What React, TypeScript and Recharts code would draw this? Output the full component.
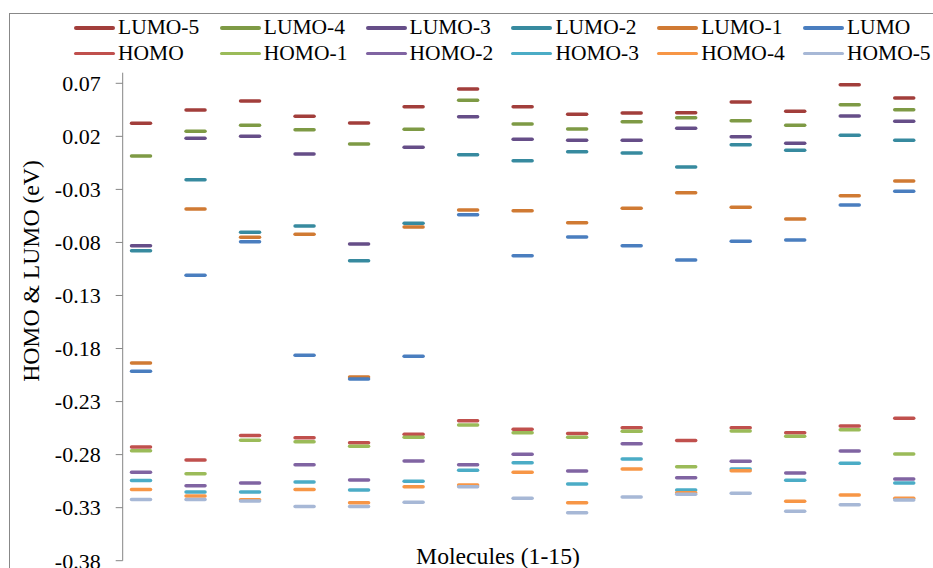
import React from 'react';
import { ScatterChart, Scatter, XAxis, YAxis, Legend } from 'recharts';

const MOLECULES = [1, 2, 3, 4, 5, 6, 7, 8, 9, 10, 11, 12, 13, 14, 15];

const LUMO_5 = [0.0323, 0.0448, 0.0533, 0.0389, 0.0326, 0.048, 0.0646, 0.048, 0.0408, 0.042, 0.0423, 0.0524, 0.0436, 0.0687, 0.0561];
const LUMO_4 = [0.0015, 0.0248, 0.0304, 0.0263, 0.0128, 0.0266, 0.054, 0.0316, 0.0269, 0.0338, 0.0376, 0.0348, 0.0304, 0.0498, 0.0451];
const LUMO_3 = [-0.0831, 0.0182, 0.02, 0.0034, -0.0815, 0.0097, 0.0385, 0.0172, 0.0163, 0.0163, 0.0276, 0.0197, 0.0134, 0.0392, 0.0342];
const LUMO_2 = [-0.0878, -0.0209, -0.0704, -0.0645, -0.0972, -0.062, 0.0027, -0.003, 0.0055, 0.0043, -0.0089, 0.0121, 0.0069, 0.021, 0.0163];
const LUMO_1 = [-0.1936, -0.0485, -0.0751, -0.0723, -0.2068, -0.0654, -0.0494, -0.0501, -0.0614, -0.0478, -0.0331, -0.0469, -0.0579, -0.0359, -0.0221];
const LUMO = [-0.2014, -0.111, -0.0793, -0.1864, -0.2087, -0.1873, -0.0538, -0.0925, -0.0749, -0.0831, -0.0965, -0.0789, -0.0777, -0.0447, -0.0318];
const HOMO = [-0.2728, -0.285, -0.2621, -0.264, -0.2687, -0.2608, -0.248, -0.2561, -0.2602, -0.2546, -0.2668, -0.2546, -0.2593, -0.253, -0.2457];
const HOMO_1 = [-0.2763, -0.298, -0.2665, -0.2678, -0.2721, -0.2636, -0.252, -0.2593, -0.2636, -0.258, -0.2914, -0.2577, -0.2627, -0.2565, -0.2794];
const HOMO_2 = [-0.2966, -0.3093, -0.3067, -0.2895, -0.3039, -0.286, -0.2895, -0.2797, -0.2954, -0.2697, -0.3017, -0.2863, -0.2973, -0.2766, -0.3029];
const HOMO_3 = [-0.3045, -0.3152, -0.3152, -0.3058, -0.3133, -0.3051, -0.2947, -0.2876, -0.3077, -0.2841, -0.3133, -0.2935, -0.3042, -0.2882, -0.3067];
const HOMO_4 = [-0.313, -0.319, -0.3225, -0.313, -0.3253, -0.3102, -0.3086, -0.2966, -0.3253, -0.2935, -0.3159, -0.2951, -0.324, -0.318, -0.3211];
const HOMO_5 = [-0.3224, -0.3224, -0.3237, -0.329, -0.329, -0.3249, -0.3102, -0.3211, -0.3347, -0.3199, -0.3174, -0.3164, -0.3334, -0.3272, -0.3227];

const Y_TICKS = [-0.38, -0.33, -0.28, -0.23, -0.18, -0.13, -0.08, -0.03, 0.02, 0.07];

const SERIES = [
  { name: 'LUMO-5', values: LUMO_5, color: '#A23E3B' },
  { name: 'LUMO-4', values: LUMO_4, color: '#7E9A45' },
  { name: 'LUMO-3', values: LUMO_3, color: '#664E88' },
  { name: 'LUMO-2', values: LUMO_2, color: '#378A9F' },
  { name: 'LUMO-1', values: LUMO_1, color: '#D07A33' },
  { name: 'LUMO', values: LUMO, color: '#4A7EBF' },
  { name: 'HOMO', values: HOMO, color: '#C0504D' },
  { name: 'HOMO-1', values: HOMO_1, color: '#9BBB59' },
  { name: 'HOMO-2', values: HOMO_2, color: '#8064A2' },
  { name: 'HOMO-3', values: HOMO_3, color: '#4BACC6' },
  { name: 'HOMO-4', values: HOMO_4, color: '#F79646' },
  { name: 'HOMO-5', values: HOMO_5, color: '#A7B8D6' },
];

const FONT = 'Liberation Serif';

const dash = (color: string) => (props: any) => {
  const { cx, cy } = props;
  if (cx == null || cy == null) return <g />;
  return (
    <line
      x1={cx - 9.5}
      x2={cx + 9.5}
      y1={cy}
      y2={cy}
      stroke={color}
      strokeWidth={3.5}
      strokeLinecap="round"
    />
  );
};

const renderLegend = () => (
  <div style={{ display: 'flex', flexWrap: 'wrap', width: 880, fontFamily: FONT }}>
    {SERIES.map((s) => (
      <div
        key={s.name}
        style={{ width: 145.8, height: 25.6, display: 'flex', alignItems: 'center' }}
      >
        <span
          style={{
            display: 'inline-block',
            width: 41,
            height: 3.5,
            borderRadius: 2,
            background: s.color,
            marginRight: 3,
          }}
        />
        <span style={{ fontSize: 21.5, color: '#000', lineHeight: '25px', fontFamily: FONT }}>
          {s.name}
        </span>
      </div>
    ))}
  </div>
);

export default function App() {
  return (
    <div
      style={{
        position: 'fixed',
        left: 0,
        top: 0,
        width: 933,
        height: 568,
        overflow: 'hidden',
        background: '#fff',
        fontFamily: FONT,
      }}
    >
      <div
        style={{
          position: 'absolute',
          left: 9,
          top: 13,
          width: 1000,
          height: 600,
          borderTop: '1px solid #888888',
          borderLeft: '1px solid #888888',
        }}
      >
        <ScatterChart
          width={940}
          height={600}
          margin={{ top: 58.7, right: 18.5, bottom: 53.3, left: 0 }}
        >
          <XAxis type="number" dataKey="x" domain={[0.664, 15.5]} hide allowDataOverflow />
          <YAxis
            type="number"
            dataKey="y"
            width={112.7}
            domain={[-0.38, 0.08]}
            ticks={Y_TICKS}
            interval={0}
            allowDataOverflow
            tickFormatter={(v: number) => v.toFixed(2)}
            axisLine={{ stroke: '#868686' }}
            tickLine={{ stroke: '#868686' }}
            tickSize={7}
            tickMargin={15}
            tick={{ fill: '#000', fontSize: 22, fontFamily: FONT }}
          />
          <Legend
            content={renderLegend}
            layout="horizontal"
            align="center"
            verticalAlign="middle"
            wrapperStyle={{ position: 'absolute', top: 1, left: 64, width: 880, height: 52 }}
          />
          {SERIES.map((s) => (
            <Scatter
              key={s.name}
              name={s.name}
              data={MOLECULES.map((m, i) => ({ x: m, y: s.values[i] }))}
              fill={s.color}
              shape={dash(s.color)}
              isAnimationActive={false}
            />
          ))}
          <text
            x={21}
            y={257}
            transform="rotate(-90 21 257)"
            textAnchor="middle"
            dominantBaseline="central"
            fontSize={23.7}
            fontFamily={FONT}
            fill="#000"
          >
            HOMO &amp; LUMO (eV)
          </text>
          <text
            x={488}
            y={550}
            textAnchor="middle"
            fontSize={23.7}
            fontFamily={FONT}
            fill="#000"
          >
            Molecules (1-15)
          </text>
        </ScatterChart>
      </div>
    </div>
  );
}
